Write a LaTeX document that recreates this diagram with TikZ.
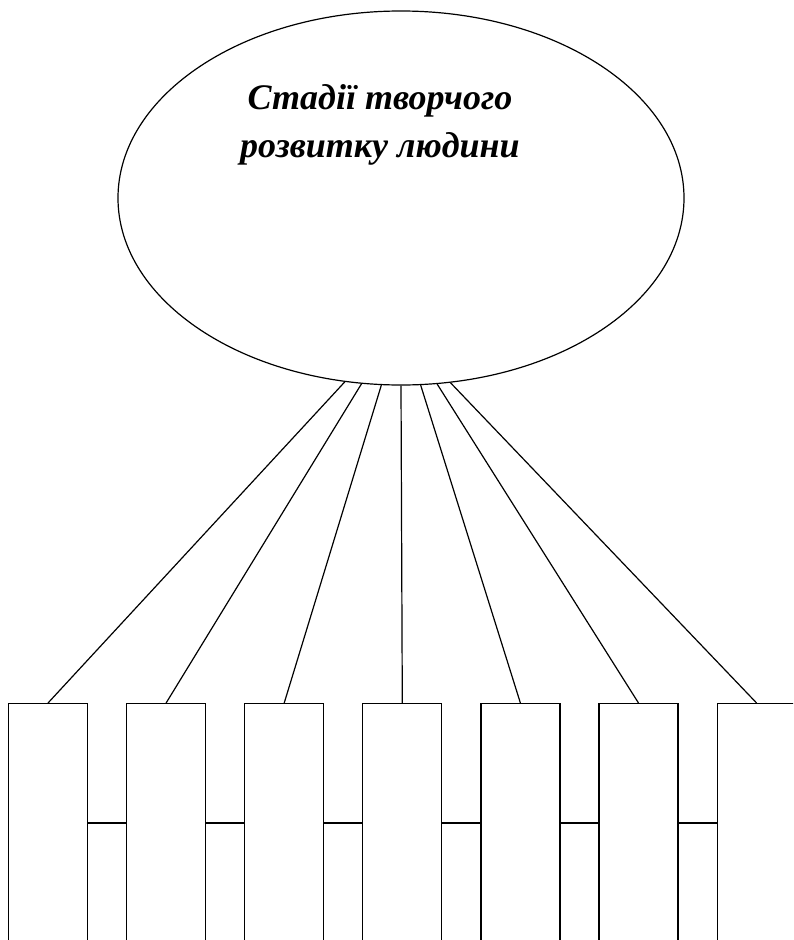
\documentclass[tikz,border=0pt]{standalone}
\usepackage{fontspec}
\setmainfont{Liberation Serif}
\usetikzlibrary{shapes.geometric}
\begin{document}
\begin{tikzpicture}[x=1pt,y=-1pt,
  stagebox/.style={draw,line width=1.2pt,minimum width=79pt,minimum height=240pt,inner sep=0pt},
  link/.style={draw,line width=1.2pt}]
\path[use as bounding box] (0,0) rectangle (793,940);
\clip (0,0) rectangle (793,940);
\node[draw,ellipse,line width=1.2pt,minimum width=566pt,minimum height=374pt,inner sep=0pt] (ell) at (401,198) {};
\node[align=center,inner sep=0pt,anchor=north,font=\fontsize{36}{48}\selectfont\bfseries\itshape] (title) at (380,84) {Стадії творчого\\розвитку людини};
\foreach \i in {1,...,7}{
  \node[stagebox,anchor=north] (b\i) at ({48+118.1*(\i-1)},703) {};
}
\draw[link] (ell.253.3) -- (b1.north);
\draw[link] (ell.258.7) -- (b2.north);
\draw[link] (ell.264.5) -- (b3.north);
\draw[link] (ell.270) -- (b4.north);
\draw[link] (ell.276.1) -- (b5.north);
\draw[link] (ell.281.3) -- (b6.north);
\draw[link] (ell.285.8) -- (b7.north);
\coordinate (h) at (0,823);
\foreach \i [evaluate=\i as \j using int(\i+1)] in {1,...,6}{
  \draw[link] (b\i.east |- h) -- (b\j.west |- h);
}
\end{tikzpicture}
\end{document}
